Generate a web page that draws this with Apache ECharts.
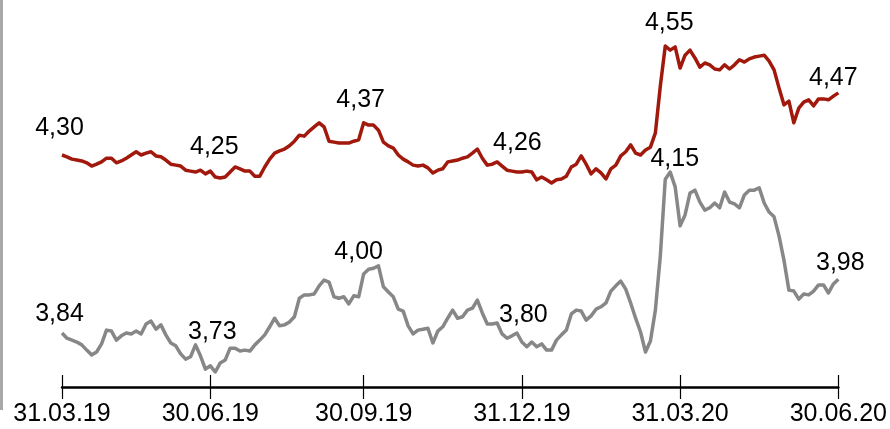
<!DOCTYPE html>
<html>
<head>
<meta charset="utf-8">
<script src="https://cdn.jsdelivr.net/npm/echarts@6/dist/echarts.min.js"></script>
<style>
html,body{margin:0;padding:0;background:#fff;}
#chart{width:890px;height:429px;}
</style>
</head>
<body>
<div id="chart"></div>
<script>
// ---- data ----
const quarterLabels = ['31.03.19', '30.06.19', '30.09.19', '31.12.19', '31.03.20', '30.06.20'];
const quarterIdx = [0, 30, 61, 93, 125, 157];

const redSeries = [
  4.300, 4.296, 4.291, 4.289, 4.287, 4.283, 4.276, 4.280, 4.285, 4.293,
  4.293, 4.283, 4.287, 4.293, 4.300, 4.307, 4.300, 4.304, 4.307, 4.298,
  4.296, 4.289, 4.280, 4.278, 4.276, 4.267, 4.265, 4.263, 4.267, 4.259,
  4.265, 4.252, 4.250, 4.252, 4.263, 4.274, 4.270, 4.265, 4.265, 4.254,
  4.254, 4.274, 4.291, 4.304, 4.309, 4.313, 4.320, 4.330, 4.343, 4.341,
  4.352, 4.361, 4.370, 4.361, 4.330, 4.328, 4.326, 4.326, 4.326, 4.330,
  4.333, 4.370, 4.365, 4.365, 4.354, 4.328, 4.320, 4.315, 4.300, 4.291,
  4.285, 4.278, 4.276, 4.278, 4.272, 4.261, 4.267, 4.270, 4.285, 4.287,
  4.289, 4.293, 4.296, 4.304, 4.313, 4.293, 4.278, 4.280, 4.285, 4.276,
  4.267, 4.265, 4.263, 4.263, 4.265, 4.263, 4.246, 4.252, 4.246, 4.239,
  4.246, 4.248, 4.254, 4.274, 4.280, 4.298, 4.280, 4.259, 4.270, 4.261,
  4.248, 4.270, 4.278, 4.298, 4.307, 4.322, 4.304, 4.300, 4.311, 4.317,
  4.348, 4.450, 4.537, 4.528, 4.535, 4.489, 4.517, 4.528, 4.511, 4.491,
  4.500, 4.496, 4.487, 4.485, 4.496, 4.487, 4.496, 4.507, 4.502, 4.509,
  4.513, 4.515, 4.517, 4.504, 4.485, 4.446, 4.409, 4.417, 4.370, 4.402,
  4.415, 4.420, 4.407, 4.422, 4.422, 4.420, 4.428, 4.435
];

const graySeries = [
  3.812, 3.801, 3.797, 3.793, 3.787, 3.776, 3.766, 3.772, 3.789, 3.818,
  3.816, 3.797, 3.806, 3.812, 3.810, 3.816, 3.810, 3.831, 3.837, 3.820,
  3.829, 3.808, 3.791, 3.785, 3.768, 3.757, 3.762, 3.787, 3.764, 3.736,
  3.743, 3.730, 3.749, 3.755, 3.780, 3.780, 3.774, 3.776, 3.774, 3.787,
  3.797, 3.808, 3.825, 3.843, 3.827, 3.829, 3.835, 3.846, 3.885, 3.892,
  3.892, 3.894, 3.911, 3.923, 3.919, 3.888, 3.885, 3.888, 3.873, 3.890,
  3.888, 3.936, 3.946, 3.948, 3.953, 3.909, 3.898, 3.888, 3.862, 3.858,
  3.827, 3.810, 3.818, 3.820, 3.822, 3.791, 3.816, 3.825, 3.843, 3.860,
  3.843, 3.846, 3.860, 3.864, 3.881, 3.854, 3.831, 3.831, 3.833, 3.810,
  3.801, 3.806, 3.812, 3.793, 3.783, 3.793, 3.783, 3.789, 3.776, 3.776,
  3.797, 3.808, 3.818, 3.852, 3.860, 3.858, 3.839, 3.848, 3.862, 3.867,
  3.875, 3.900, 3.911, 3.921, 3.904, 3.875, 3.843, 3.814, 3.772, 3.795,
  3.860, 3.974, 4.135, 4.150, 4.119, 4.037, 4.060, 4.106, 4.112, 4.087,
  4.070, 4.075, 4.085, 4.075, 4.108, 4.087, 4.083, 4.075, 4.102, 4.112,
  4.112, 4.117, 4.085, 4.066, 4.056, 4.016, 3.965, 3.902, 3.900, 3.883,
  3.894, 3.892, 3.900, 3.913, 3.913, 3.896, 3.915, 3.925
];

const redNotes = ['4,30', '4,25', '4,37', '4,26', '4,55', '4,47'];
const redNoteIdx = [0, 30, 61, 93, 123, 157];
const grayNotes = ['3,84', '3,73', '4,00', '3,80', '4,15', '3,98'];
const grayNoteIdx = [0, 30, 61, 93, 123, 157];

// ---- styling / layout ----
const redNoteOffset = [[-2.5, -27], [4, -24], [-3, -23], [-4.5, -29], [-1, -27], [-5, -15]];
const grayNoteOffset = [[-2.5, -19], [2, -33.5], [-5, -21.5], [1.5, -27], [4.5, -13], [2, -16]];
const FONT = '"Liberation Sans", Arial, sans-serif';

const categories = redSeries.map((_, i) => {
  const q = quarterIdx.indexOf(i);
  return q >= 0 ? quarterLabels[q] : String(i);
});

function buildData(values, noteIdx, notes, offsets) {
  return values.map((v, i) => {
    const k = noteIdx.indexOf(i);
    if (k < 0) return v;
    return {
      value: v,
      label: {
        show: true,
        position: 'inside',
        formatter: notes[k],
        offset: offsets[k]
      }
    };
  });
}

const chart = echarts.init(document.getElementById('chart'), null, { renderer: 'canvas' });
const isQuarter = (i) => quarterIdx.indexOf(i) >= 0;

const option = {
  animation: false,
  backgroundColor: '#ffffff',
  grid: { left: 62, right: 49, top: 0, bottom: 42, containLabel: false },
  xAxis: [
    {
      type: 'category',
      data: categories,
      boundaryGap: false,
      position: 'bottom',
      axisLine: { show: true, lineStyle: { color: '#000', width: 2.5 } },
      axisTick: { show: true, interval: (i) => isQuarter(i), length: 12, lineStyle: { color: '#000', width: 1.2 } },
      axisLabel: {
        show: true, interval: (i) => isQuarter(i), margin: 15,
        color: '#000', fontFamily: FONT, fontSize: 25
      },
      splitLine: { show: false }
    },
    {
      type: 'category',
      data: categories,
      boundaryGap: false,
      position: 'bottom',
      axisLine: { show: false },
      axisTick: { show: true, inside: true, interval: (i) => isQuarter(i), length: 12, lineStyle: { color: '#000', width: 1.2 } },
      axisLabel: { show: false },
      splitLine: { show: false }
    }
  ],
  yAxis: [
    { type: 'value', min: 3.79565, max: 4.63696, show: false, splitLine: { show: false } },
    { type: 'value', min: 3.69849, max: 4.51151, show: false, splitLine: { show: false } }
  ],
  graphic: [
    { type: 'rect', left: 0, top: 0, shape: { x: 0, y: 0, width: 3, height: 410 }, style: { fill: '#a8a8a8' }, silent: true }
  ],
  series: [
    {
      type: 'line',
      xAxisIndex: 0,
      yAxisIndex: 1,
      data: buildData(graySeries, grayNoteIdx, grayNotes, grayNoteOffset),
      showSymbol: true,
      symbol: 'circle',
      symbolSize: 0,
      lineStyle: { color: '#878787', width: 3.5, join: 'round' },
      itemStyle: { color: '#878787' },
      label: { color: '#000', fontFamily: FONT, fontSize: 25 },
      z: 2
    },
    {
      type: 'line',
      xAxisIndex: 0,
      yAxisIndex: 0,
      data: buildData(redSeries, redNoteIdx, redNotes, redNoteOffset),
      showSymbol: true,
      symbol: 'circle',
      symbolSize: 0,
      lineStyle: { color: '#a0190c', width: 3.5, join: 'round' },
      itemStyle: { color: '#a0190c' },
      label: { color: '#000', fontFamily: FONT, fontSize: 25 },
      z: 3
    }
  ]
};
chart.setOption(option);
</script>
</body>
</html>
